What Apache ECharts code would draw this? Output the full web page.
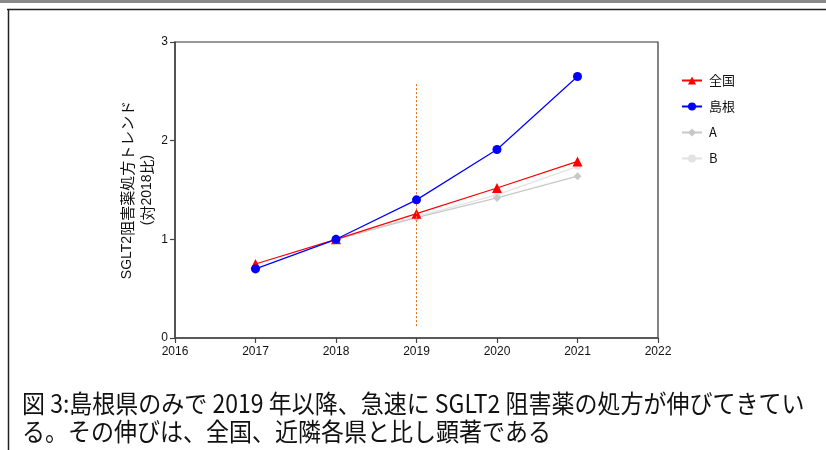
<!DOCTYPE html>
<html>
<head>
<meta charset="utf-8">
<script src="https://cdn.jsdelivr.net/npm/echarts@6/dist/echarts.min.js"></script>
<style>
html,body{margin:0;padding:0;background:#fff;}
#chart{width:826px;height:450px;}
</style>
</head>
<body>
<div id="chart"></div>
<script>
// Prescription trend of SGLT2 inhibitors, relative to 2018
const years = [2017, 2018, 2019, 2020, 2021];
const zenkoku = [0.75, 1.00, 1.26, 1.52, 1.79];
const shimane = [0.70, 1.00, 1.40, 1.91, 2.65];
const prefA = [null, 1.00, 1.22, 1.42, 1.64];
const prefB = [null, 1.00, 1.23, 1.45, 1.74];
const seriesNames = ['全国', '島根', 'A', 'B'];
const xTicks = [2016, 2017, 2018, 2019, 2020, 2021, 2022];
const yTicks = [0, 1, 2, 3];
const markerYear = 2019;
const markerRange = [0.12, 2.59];
const captionLines = [
  '図 3:島根県のみで 2019 年以降、急速に SGLT2 阻害薬の処方が伸びてきてい',
  'る。その伸びは、全国、近隣各県と比し顕著である'
];

const pairs = arr => years.map((y, i) => [y, arr[i]]);
const chart = echarts.init(document.getElementById('chart'), null, {renderer: 'canvas'});
const font = '"Liberation Sans", Arial, sans-serif';
const cjk = '"Noto Sans CJK JP", sans-serif';

chart.setOption({
  animation: false,
  backgroundColor: '#fff',
  grid: {left: 175, right: 168, top: 42, bottom: 112, show: true, borderColor: '#333', borderWidth: 1.2},
  xAxis: {
    type: 'value', min: xTicks[0], max: xTicks[xTicks.length - 1], interval: 1,
    axisLine: {show: true, lineStyle: {color: '#444', width: 1.5}},
    axisTick: {show: true, length: 5, lineStyle: {color: '#444', width: 1.2}},
    axisLabel: {color: '#111', fontSize: 12, fontFamily: font, margin: 8, formatter: v => String(v), showMinLabel: true, showMaxLabel: true},
    splitLine: {show: false}
  },
  yAxis: {
    type: 'value', min: yTicks[0], max: yTicks[yTicks.length - 1], interval: 1,
    axisLine: {show: true, lineStyle: {color: '#444', width: 1.5}},
    axisTick: {show: true, length: 5, lineStyle: {color: '#444', width: 1.2}},
    axisLabel: {color: '#111', fontSize: 12, fontFamily: font, margin: 7},
    splitLine: {show: false},
    name: '{l|SGLT2}{c|阻害薬処方トレンド}\n{l|(}{c|対}{l|2018}{c|比}{l|)}',
    nameLocation: 'middle', nameRotate: 90, nameGap: 18, nameMoveOverlap: false,
    nameTextStyle: {
      color: '#111', fontSize: 14, fontFamily: font, lineHeight: 20, align: 'center',
      rich: {
        l: {fontSize: 14, fontFamily: font, color: '#111', lineHeight: 20},
        c: {fontSize: 15, fontFamily: cjk, color: '#111', lineHeight: 20}
      }
    }
  },
  legend: {
    orient: 'vertical', left: 676, top: 69, itemGap: 13, itemWidth: 20, itemHeight: 10,
    data: seriesNames,
    textStyle: {color: '#111', fontSize: 13, fontFamily: cjk, padding: [0, 0, 0, 2]}
  },
  series: [
    {
      name: 'B', type: 'line', data: pairs(prefB), symbol: 'circle', symbolSize: 7,
      itemStyle: {color: '#e3e3e3'}, lineStyle: {color: '#e3e3e3', width: 1.2}, z: 2
    },
    {
      name: 'A', type: 'line', data: pairs(prefA), symbol: 'diamond', symbolSize: 8,
      itemStyle: {color: '#c8c8c8'}, lineStyle: {color: '#c8c8c8', width: 1.2}, z: 3
    },
    {
      name: '全国', type: 'line', data: pairs(zenkoku), symbol: 'triangle', symbolSize: 10,
      itemStyle: {color: '#ff0000'}, lineStyle: {color: '#ff0000', width: 1.2}, z: 4,
      markLine: {
        silent: true, symbol: 'none', label: {show: false},
        lineStyle: {color: '#e0701c', type: [2, 2], width: 1},
        data: [[{coord: [markerYear, markerRange[0]]}, {coord: [markerYear, markerRange[1]]}]]
      }
    },
    {
      name: '島根', type: 'line', data: pairs(shimane), symbol: 'circle', symbolSize: 9,
      itemStyle: {color: '#0000ff'}, lineStyle: {color: '#0000ff', width: 1.2}, z: 5
    }
  ],
  graphic: [
    {type: 'rect', shape: {x: 0, y: 0, width: 826, height: 3}, style: {fill: '#8a8a8a'}, silent: true},
    {type: 'line', shape: {x1: 7, y1: 9.5, x2: 826, y2: 9.5}, style: {stroke: '#222', lineWidth: 1.5}, silent: true},
    {type: 'line', shape: {x1: 8.5, y1: 9, x2: 8.5, y2: 450}, style: {stroke: '#222', lineWidth: 1.5}, silent: true},
    {
      type: 'text', left: 22, top: 391, scaleX: 0.92, silent: true,
      style: {text: captionLines[0], fontSize: 25, fontFamily: cjk, fill: '#111'}
    },
    {
      type: 'text', left: 22, top: 419, scaleX: 0.92, silent: true,
      style: {text: captionLines[1], fontSize: 25, fontFamily: cjk, fill: '#111'}
    }
  ]
});
</script>
</body>
</html>
